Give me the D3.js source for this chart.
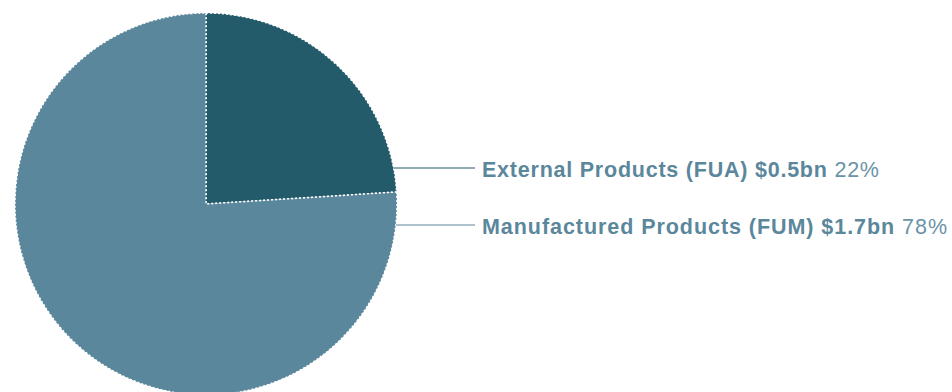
<!DOCTYPE html>
<html><head><meta charset="utf-8">
<script src="https://cdn.jsdelivr.net/npm/d3@7"></script>
<style>body{margin:0;background:#fff}svg{display:block}</style>
</head><body>
<script>
const categories = ["External Products (FUA)", "Manufactured Products (FUM)"];
const amounts = ["$0.5bn", "$1.7bn"];
const percents = [22, 78];
// slice shares as drawn in the picture (angle)
const sliceShares = [24, 76];
const colors = ["#245b6a", "#5b879c"];

const W = 952, H = 392, cx = 206, cy = 204, R = 191;
const svg = d3.select("body").append("svg").attr("width", W).attr("height", H);
const g = svg.append("g").attr("transform", `translate(${cx},${cy})`);
const data = categories.map((c, i) => ({c, a: amounts[i], p: percents[i], s: sliceShares[i], col: colors[i]}));
const pie = d3.pie().value(d => d.s).sort(null);
const arc = d3.arc().innerRadius(0).outerRadius(R);
const arcs = pie(data);
g.selectAll("path").data(arcs).join("path")
  .attr("d", arc).attr("fill", d => d.data.col)
  .attr("stroke", "#fff").attr("stroke-width", 1.5).attr("stroke-dasharray", "2 2");

const labelY = [168, 225];
const targetRight = [879, 947];
const textX = 482;
arcs.forEach((a, i) => {
  const y = labelY[i];
  const dy = y - cy;
  const x0 = cx + Math.sqrt(R * R - dy * dy);
  svg.append("line").attr("x1", x0).attr("x2", textX - 7).attr("y1", y).attr("y2", y)
    .attr("stroke", colors[i]).attr("stroke-width", 1.2);
  const t = svg.append("text").attr("x", textX).attr("y", y + 8.5)
    .attr("font-family", "Liberation Sans, Arial, sans-serif").attr("font-size", 21.5)
    .attr("fill", "#5b879c");
  t.append("tspan").attr("font-weight", "bold").text(`${a.data.c} ${a.data.a}`);
  t.append("tspan").attr("fill", "#6a93a7").text(" " + a.data.p + "%");
  const str = `${a.data.c} ${a.data.a} ${a.data.p}%`;
  const len = t.node().getComputedTextLength();
  const ls = (targetRight[i] - textX - len) / (str.length - 1);
  t.attr("letter-spacing", ls);
});
</script>
</body></html>
